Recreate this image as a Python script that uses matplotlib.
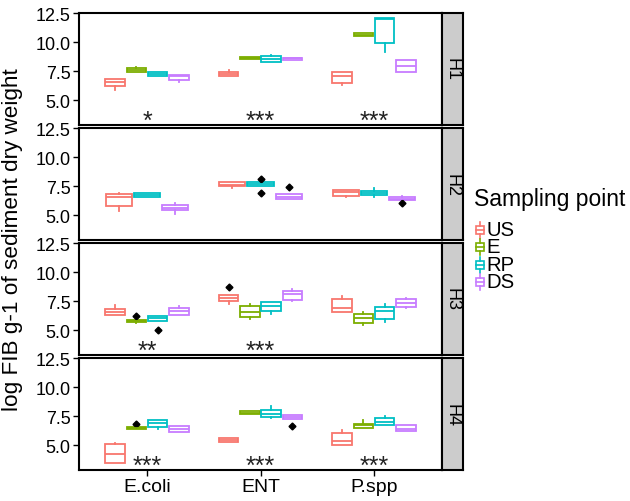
import numpy as np
import matplotlib
matplotlib.use("Agg")
import matplotlib.pyplot as plt
from matplotlib.patches import Rectangle
from matplotlib.lines import Line2D

plt.rcParams['font.family'] = ['Liberation Sans', 'DejaVu Sans']

categories = ['E.coli', 'ENT', 'P.spp']
groups = ['US', 'E', 'RP', 'DS']
panels = ['H1', 'H2', 'H3', 'H4']
colors = ['#F8766D', '#7CAE00', '#00BFC4', '#C77CFF']
nan = np.nan

# stats per panel: rows = categories, cols = groups (US, E, RP, DS)
q1 = {
    'H1': [[6.26, 7.47, 7.13, 6.75], [7.07, 8.60, 8.33, 8.50], [6.47, 10.52, 9.91, 7.41]],
    'H2': [[5.83, nan, 6.58, 5.43], [7.50, nan, 7.56, 6.41], [6.70, nan, 6.75, 6.32]],
    'H3': [[6.35, 5.69, 5.78, 6.35], [7.50, 6.12, 6.70, 7.64], [6.61, 5.66, 5.95, 7.04]],
    'H4': [[3.48, 6.38, 6.58, 6.12], [5.26, 7.73, 7.44, 7.24], [5.06, 6.49, 6.78, 6.21]],
}
med = {
    'H1': [[6.60, 7.60, 7.30, 7.07], [7.30, 8.70, 8.56, 8.62], [7.13, 10.65, 12.00, 7.99]],
    'H2': [[6.58, nan, 6.78, 5.66], [7.62, nan, 7.70, 6.60], [6.98, nan, 6.90, 6.44]],
    'H3': [[6.58, 5.80, 6.06, 6.64], [7.79, 6.58, 7.13, 8.13], [6.90, 6.09, 6.67, 7.39]],
    'H4': [[4.28, 6.48, 6.93, 6.38], [5.46, 7.83, 7.73, 7.44], [5.34, 6.72, 7.04, 6.38]],
}
q3 = {
    'H1': [[6.84, 7.76, 7.47, 7.18], [7.47, 8.75, 8.79, 8.70], [7.47, 10.78, 12.10, 8.48]],
    'H2': [[6.84, nan, 6.93, 5.89], [7.84, nan, 7.84, 6.87], [7.18, nan, 7.13, 6.55]],
    'H3': [[6.87, 5.92, 6.21, 6.95], [8.02, 7.07, 7.44, 8.36], [7.67, 6.38, 7.04, 7.67]],
    'H4': [[5.09, 6.58, 7.21, 6.64], [5.66, 7.93, 8.07, 7.61], [6.06, 6.87, 7.38, 6.72]],
}
wlo = {
    'H1': [[5.92, 7.47, 7.13, 6.60], [7.07, 8.60, 8.33, 8.50], [6.32, 10.52, 9.20, 7.41]],
    'H2': [[5.34, nan, 6.58, 5.11], [7.33, nan, 7.56, 6.41], [6.60, nan, 6.60, 6.32]],
    'H3': [[6.35, 5.60, 5.78, 6.35], [7.30, 6.00, 6.41, 7.50], [6.61, 5.45, 5.70, 6.90]],
    'H4': [[3.48, 6.38, 6.45, 6.12], [5.26, 7.73, 7.35, 7.24], [5.06, 6.49, 6.78, 6.21]],
}
whi = {
    'H1': [[6.84, 7.85, 7.47, 7.18], [7.64, 8.75, 8.90, 8.70], [7.47, 10.78, 12.10, 8.48]],
    'H2': [[6.93, nan, 6.95, 6.03], [7.84, nan, 7.84, 6.87], [7.18, nan, 7.33, 6.70]],
    'H3': [[7.21, 5.92, 6.21, 7.07], [8.02, 7.24, 7.44, 8.56], [8.00, 6.62, 7.30, 7.80]],
    'H4': [[5.20, 6.58, 7.21, 6.64], [5.66, 7.93, 8.42, 7.61], [6.29, 7.16, 7.50, 6.80]],
}
# outliers: (panel, category index, group index, value)
outliers = [
    ('H2', 1, 2, 8.16), ('H2', 1, 2, 6.90), ('H2', 1, 3, 7.47), ('H2', 2, 3, 6.03),
    ('H3', 0, 1, 6.24), ('H3', 0, 2, 5.03), ('H3', 1, 0, 8.74),
    ('H4', 0, 1, 6.84), ('H4', 1, 3, 6.67),
]
signif = {
    'H1': ['*', '***', '***'],
    'H2': ['', '', ''],
    'H3': ['**', '***', ''],
    'H4': ['***', '***', '***'],
}
yticks = [5.0, 7.5, 10.0, 12.5]

W, H = 630, 502
fig = plt.figure(figsize=(W / 100, H / 100), dpi=100)
fig.patch.set_facecolor('white')

left, right, sright = 79, 442, 463
rows = [(14, 126), (129, 241), (244, 356), (359, 471)]
ylim = (2.88, 12.54)
lw = 1.3

def fx(px):
    return px / W

def fy(py):
    return 1 - py / H

for pi, pname in enumerate(panels):
    top, bot = rows[pi]
    ax = fig.add_axes([fx(left), fy(bot), fx(right - left), (bot - top) / H])
    for ci in range(len(categories)):
        present = [gi for gi in range(len(groups)) if not np.isnan(med[pname][ci][gi])]
        n = len(present)
        w = 0.75 / n
        for k, gi in enumerate(present):
            pos = ci + 1 - 0.375 + w * (k + 0.5)
            fl = [o[3] for o in outliers if o[0] == pname and o[1] == ci and o[2] == gi]
            st = dict(med=med[pname][ci][gi], q1=q1[pname][ci][gi], q3=q3[pname][ci][gi],
                      whislo=wlo[pname][ci][gi], whishi=whi[pname][ci][gi], fliers=fl)
            c = colors[gi]
            ax.bxp([st], positions=[pos], widths=[w * 0.92], patch_artist=True,
                   showcaps=False,
                   boxprops=dict(facecolor='white', edgecolor=c, linewidth=lw),
                   medianprops=dict(color=c, linewidth=lw),
                   whiskerprops=dict(color=c, linewidth=lw),
                   flierprops=dict(marker='D', markerfacecolor='black', markeredgecolor='black',
                                   markersize=3.5))
        if signif[pname][ci]:
            ax.text(ci + 1, 3.2, signif[pname][ci], ha='center', va='center',
                    fontsize=18, color='#222222')
    ax.set_xlim(0.4, 3.6)
    ax.set_ylim(*ylim)
    ax.set_yticks(yticks)
    ax.set_yticklabels(['%.1f' % t for t in yticks])
    ax.tick_params(axis='y', labelsize=13, length=4, width=1, colors='black', pad=2)
    ax.set_xticks([1, 2, 3])
    if pi == len(panels) - 1:
        ax.set_xticklabels(categories)
        ax.tick_params(axis='x', labelsize=14, length=4, width=1, pad=2)
    else:
        ax.set_xticklabels([])
        ax.tick_params(axis='x', length=0)
    for s in ax.spines.values():
        s.set_linewidth(1.5)
        s.set_color('black')
    # strip
    sax = fig.add_axes([fx(right), fy(bot), fx(sright - right), (bot - top) / H])
    sax.set_facecolor('#CCCCCC')
    sax.set_xticks([])
    sax.set_yticks([])
    for s in sax.spines.values():
        s.set_linewidth(1.5)
        s.set_color('black')
    sax.text(0.5, 0.5, pname, rotation=-90, ha='center', va='center', fontsize=13,
             transform=sax.transAxes)

fig.text(fx(13), fy(240), 'log FIB g-1 of sediment dry weight', rotation=90,
         ha='center', va='center', fontsize=16.2)

# legend (drawn manually in figure pixel coordinates)
fig.text(fx(474), fy(200), 'Sampling point', ha='left', va='center', fontsize=16.5)
key_y = [230.5, 248, 265.5, 283]
for gi, g in enumerate(groups):
    c = colors[gi]
    yc = key_y[gi]
    kx0, kx1 = 476, 484
    xc = (kx0 + kx1) / 2
    fig.add_artist(Rectangle((fx(kx0), fy(yc + 4)), fx(kx1 - kx0), 8 / H, facecolor='white',
                             edgecolor=c, lw=1.2, transform=fig.transFigure))
    fig.add_artist(Line2D([fx(kx0), fx(kx1)], [fy(yc)] * 2, color=c, lw=1.2,
                          transform=fig.transFigure))
    fig.add_artist(Line2D([fx(xc)] * 2, [fy(yc + 4), fy(yc + 8)], color=c, lw=1.2,
                          transform=fig.transFigure))
    fig.add_artist(Line2D([fx(xc)] * 2, [fy(yc - 4), fy(yc - 8)], color=c, lw=1.2,
                          transform=fig.transFigure))
    fig.text(fx(486), fy(yc), g, ha='left', va='center', fontsize=14.6)

fig.savefig('out.png', dpi=100, facecolor='white')
